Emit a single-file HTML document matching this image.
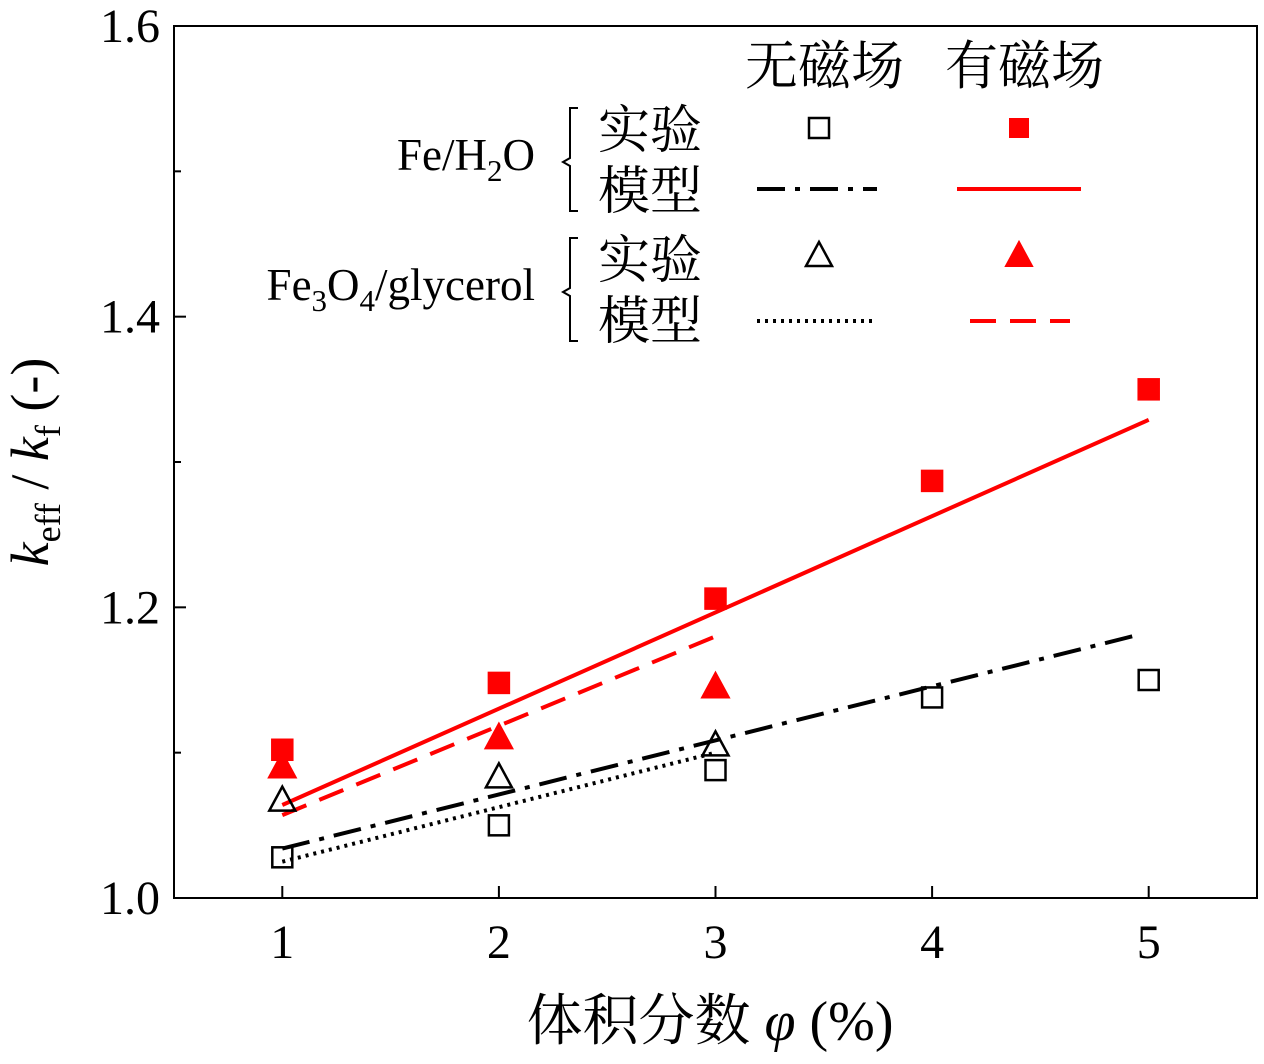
<!DOCTYPE html>
<html><head><meta charset="utf-8"><style>
body{margin:0;background:#fff}
svg text{font-family:"Liberation Serif","Noto Serif CJK SC",serif;fill:#000}
</style></head><body>
<svg id="chart" width="1264" height="1059" xmlns="http://www.w3.org/2000/svg"></svg>
<script>
const xTicks=[1,2,3,4,5];
const yTicks=[1.0,1.2,1.4,1.6];
const yTickLabels=["1.0","1.2","1.4","1.6"];
const feExpNoField=[[1,1.028],[2,1.050],[3,1.088],[4,1.138],[5,1.150]];
const feExpField=[[1,1.102],[2,1.148],[3,1.206],[4,1.287],[5,1.350]];
const glyExpNoField=[[1,1.067],[2,1.083],[3,1.105]];
const glyExpField=[[1,1.090],[2,1.110],[3,1.145]];
const feModelNoField=[[1,1.034],[4.95,1.181]];
const feModelField=[[1,1.064],[5,1.329]];
const glyModelNoField=[[1,1.025],[3,1.100]];
const glyModelField=[[1,1.057],[3,1.180]];

const svg=document.getElementById('chart');
const NS="http://www.w3.org/2000/svg";
const L=174,R=1257,T=26,B=898;
const sx=v=>L+(v-0.5)/5*(R-L);
const sy=v=>B-(v-1.0)/0.6*(B-T);
function mk(tag,attrs,parent){const e=document.createElementNS(NS,tag);for(const k in attrs)e.setAttribute(k,attrs[k]);(parent||svg).appendChild(e);return e;}

const frame=mk('rect',{x:L,y:T,width:R-L,height:B-T,fill:'none',stroke:'#000','stroke-width':2});



yTicks.forEach((v,i)=>{
  const t=mk('line',{x1:L,x2:L+12,y1:sy(v),y2:sy(v),stroke:'#000','stroke-width':2});
  
  
  const lb=mk('text',{x:L-14,y:sy(v)+16,'font-size':48,'text-anchor':'end'});
  lb.textContent=yTickLabels[i];
  
  
});
[1.1,1.3,1.5].forEach(v=>{
  const t=mk('line',{x1:L,x2:L+7,y1:sy(v),y2:sy(v),stroke:'#000','stroke-width':2});
  
  
});
xTicks.forEach(v=>{
  const t=mk('line',{x1:sx(v),x2:sx(v),y1:B,y2:B-12,stroke:'#000','stroke-width':2});
  
  
  const lb=mk('text',{x:sx(v),y:B+60,'font-size':48,'text-anchor':'middle'});
  lb.textContent=String(v);
  
  
});

function line(pts,color,dash,name){
  const e=mk('line',{x1:sx(pts[0][0]),y1:sy(pts[0][1]),x2:sx(pts[1][0]),y2:sy(pts[1][1]),stroke:color,'stroke-width':4,'stroke-dasharray':dash});
  
  
}
line(feModelNoField,'#000','28 10 5 10','fe-model-no-field');
line(feModelField,'#f00','none','fe-model-field');
line(glyModelNoField,'#000','3 5','glycerol-model-no-field');
line(glyModelField,'#f00','26 14','glycerol-model-field');

function square(x,y,filled,name){
  const e=mk('rect',{x:x-10,y:y-10,width:20,height:20,fill:filled?'#f00':'none',stroke:filled?'#f00':'#000','stroke-width':2.5});
  
  
}
function tri(x,y,filled,name){
  const e=mk('polygon',{points:`${x},${y-14} ${x-13},${y+10} ${x+13},${y+10}`,fill:filled?'#f00':'none',stroke:filled?'#f00':'#000','stroke-width':2.5});
  
  
}
feExpNoField.forEach(p=>square(sx(p[0]),sy(p[1]),false,'fe-exp-no-field-point'));
feExpField.forEach(p=>square(sx(p[0]),sy(p[1]),true,'fe-exp-field-point'));
glyExpNoField.forEach(p=>tri(sx(p[0]),sy(p[1]),false,'glycerol-exp-no-field-point'));
glyExpField.forEach(p=>tri(sx(p[0]),sy(p[1]),true,'glycerol-exp-field-point'));
</script>
<svg width="1264" height="1059" style="position:absolute;left:0;top:0" xmlns="http://www.w3.org/2000/svg">
  <text x="745" y="84" font-size="53">无磁场</text>
  <text x="945" y="84" font-size="53">有磁场</text>
  <text x="535" y="170" font-size="45" text-anchor="end">Fe/H<tspan font-size="31" dy="11">2</tspan><tspan dy="-11">O</tspan></text>
  <path d="M578,108 h-8 v50 l-7,4 l7,4 v45 h8" fill="none" stroke="#000" stroke-width="2"/>
  <text x="598" y="148" font-size="52">实验</text>
  <text x="598" y="209" font-size="52">模型</text>
  <rect x="809" y="118" width="20" height="20" fill="none" stroke="#000" stroke-width="2.5"/>
  <rect x="1009" y="118" width="20" height="20" fill="#f00"/>
  <line x1="757" y1="189" x2="877" y2="189" stroke="#000" stroke-width="4" stroke-dasharray="28 10 5 10"/>
  <line x1="957" y1="189" x2="1081" y2="189" stroke="#f00" stroke-width="4"/>
  <text x="535" y="300" font-size="45" text-anchor="end">Fe<tspan font-size="31" dy="11">3</tspan><tspan dy="-11">O</tspan><tspan font-size="31" dy="11">4</tspan><tspan dy="-11">/glycerol</tspan></text>
  <path d="M578,238 h-8 v50 l-7,4 l7,4 v45 h8" fill="none" stroke="#000" stroke-width="2"/>
  <text x="598" y="278" font-size="52">实验</text>
  <text x="598" y="339" font-size="52">模型</text>
  <polygon points="819,242 806,266 832,266" fill="none" stroke="#000" stroke-width="2.5"/>
  <polygon points="1019,242 1006,266 1032,266" fill="#f00" stroke="#f00" stroke-width="2"/>
  <line x1="757" y1="321" x2="877" y2="321" stroke="#000" stroke-width="4" stroke-dasharray="3 5"/>
  <line x1="970" y1="321" x2="1070" y2="321" stroke="#f00" stroke-width="4" stroke-dasharray="26 14"/>
  <text transform="translate(48,462) rotate(-90)" font-size="54" text-anchor="middle"><tspan font-style="italic">k</tspan><tspan font-size="36" dy="12">eff</tspan><tspan dy="-12"> / </tspan><tspan font-style="italic">k</tspan><tspan font-size="36" dy="12">f</tspan><tspan dy="-12">  (-)</tspan></text>
  <text x="710" y="1040" font-size="56" text-anchor="middle">体积分数 <tspan font-style="italic">φ</tspan> (%)</text>
</svg>
</body></html>
